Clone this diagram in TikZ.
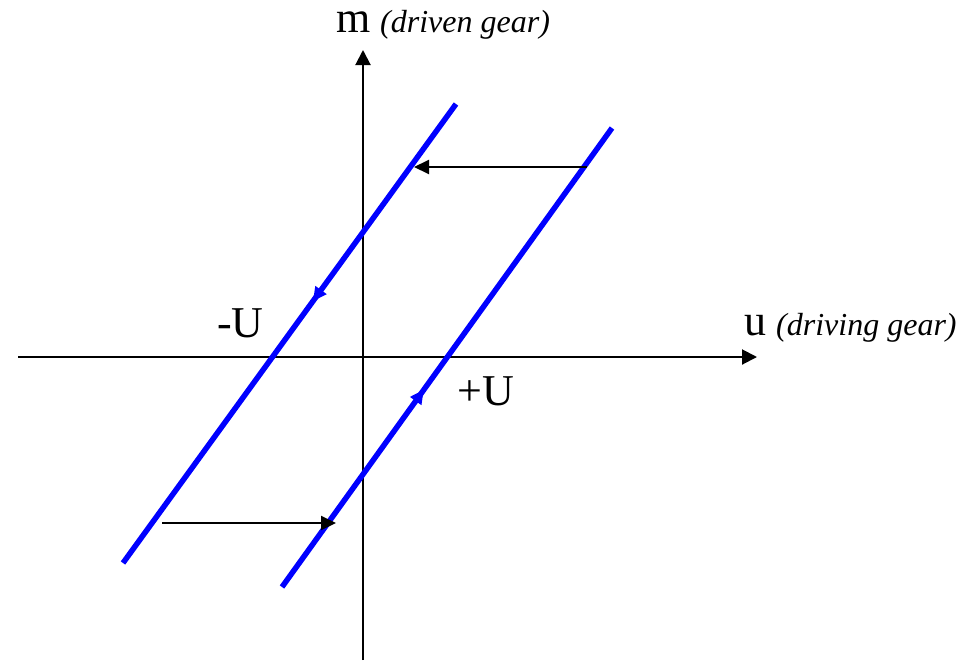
\documentclass[tikz,border=0pt]{standalone}
\usepackage{fontspec}
\setmainfont{Liberation Serif}
\usetikzlibrary{arrows.meta,decorations.markings}
\begin{document}
\begin{tikzpicture}[x=1pt,y=-1pt,
  axis/.style={line width=2pt,-{Triangle[length=15pt,width=15pt]}},
  shiftarrow/.style={line width=2pt,-{Triangle[length=15pt,width=14pt]}},
  bline/.style={line width=5.5pt,blue},
  lbl/.style={inner sep=0pt,anchor=base west,font=\fontsize{44}{48}\selectfont},
  ilbl/.style={inner sep=0pt,anchor=base west,font=\fontsize{32}{35}\selectfont\itshape}]
\useasboundingbox (0,0) rectangle (970,662);
% axes
\coordinate (xa1) at (18,357);
\coordinate (xa2) at (757,357);
\coordinate (ya1) at (363,660);
\coordinate (ya2) at (363,50);
\draw[axis] (xa1) -- (xa2);
\draw[axis] (ya1) -- (ya2);
% blue lines
\coordinate (L1) at (123,563);
\coordinate (L2) at (456,104);
\coordinate (R1) at (282,587);
\coordinate (R2) at (612,128);
\draw[bline,postaction={decorate},decoration={markings,mark=at position 0.43 with {\arrow{Triangle[length=14pt,width=13pt]}}}] (L2) -- (L1);
\draw[bline,postaction={decorate},decoration={markings,mark=at position 0.43 with {\arrow{Triangle[length=14pt,width=13pt]}}}] (R1) -- (R2);
% shift arrows
\coordinate (t1) at (587,167);
\coordinate (t2) at (414,167);
\coordinate (b1) at (162,523);
\coordinate (b2) at (336,523);
\draw[shiftarrow] (t1) -- (t2);
\draw[shiftarrow] (b1) -- (b2);
% labels
\node[lbl,text height=20pt] (m) at (336,32) {m};
\node[ilbl,text height=22pt] (mg) at (380,32) {(driven gear)};
\node[lbl] (u) at (744,335) {u};
\node[ilbl] (ug) at (776,335) {(driving gear)};
\node[lbl] (mU) at (217,337) {-U};
\node[lbl] (pU) at (457,405) {+U};
\end{tikzpicture}
\end{document}
